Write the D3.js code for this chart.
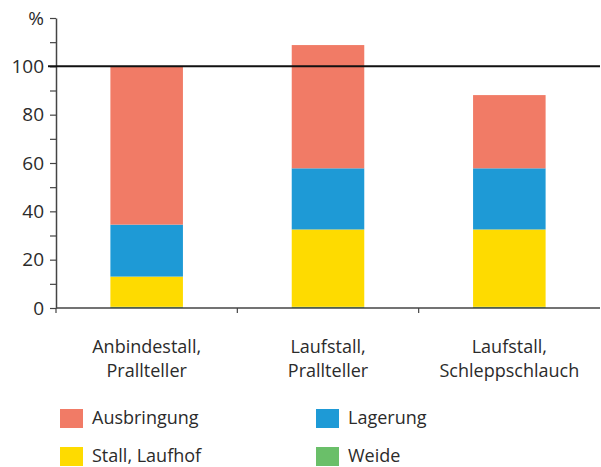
<!DOCTYPE html>
<html lang="de">
<head>
<meta charset="UTF-8">
<script src="https://d3js.org/d3.v7.min.js"></script>
<style>
body { margin: 0; background: #fff; }
text { font-family: "Open Sans", sans-serif; fill: #2b2b2b; }
.axis path, .axis line { stroke: #444; }
</style>
</head>
<body>
<div id="chart"></div>
<script>
// categories (two lines each)
var categories = [
  ["Anbindestall,", "Prallteller"],
  ["Laufstall,", "Prallteller"],
  ["Laufstall,", "Schleppschlauch"]
];
var seriesNames = ["Weide", "Stall, Laufhof", "Lagerung", "Ausbringung"];
var weide       = [0.5, 0.5, 0.5];
var stall       = [12.5, 32, 32];
var lagerung    = [21.5, 25.3, 25.3];
var ausbringung = [65.5, 51, 30.3];
var colors = ["#6abf69", "#fedb00", "#1e9ad6", "#f17b66"];
var yTicks = [0, 10, 20, 30, 40, 50, 60, 70, 80, 90, 100, 110, 120];

var width = 601, height = 467;

var svg = d3.select("#chart").append("svg")
    .attr("width", width)
    .attr("height", height);

var keys = categories.map(function(c) { return c.join(" "); });
var rows = keys.map(function(k, i) {
  return { key: k, "Weide": weide[i], "Stall, Laufhof": stall[i],
           "Lagerung": lagerung[i], "Ausbringung": ausbringung[i] };
});

var x = d3.scaleBand().domain(keys).range([56, 600]).paddingInner(0).paddingOuter(0);
var y = d3.scaleLinear().domain([0, 120]).range([308, 18]);
var color = d3.scaleOrdinal().domain(seriesNames).range(colors);

var stack = d3.stack().keys(seriesNames)(rows);
var barW = x.bandwidth() * 0.4;

svg.append("g").selectAll("g")
  .data(stack)
  .join("g")
    .attr("fill", function(d) { return color(d.key); })
  .selectAll("rect")
  .data(function(d) { return d; })
  .join("rect")
    .attr("x", function(d) { return x(d.data.key) + (x.bandwidth() - barW) / 2; })
    .attr("width", barW)
    .attr("y", function(d) { return y(d[1]); })
    .attr("height", function(d) { return y(d[0]) - y(d[1]); });

// y axis
var yAxis = svg.append("g")
    .attr("class", "axis")
    .attr("transform", "translate(56,0)")
    .call(d3.axisLeft(y).tickValues(yTicks).tickSize(6).tickSizeOuter(0)
      .tickFormat(function(d) {
        if (d === 120) return "%";
        return d % 20 === 0 ? d : "";
      }));
yAxis.select(".domain").attr("stroke-width", 1.5);
yAxis.selectAll("line").attr("stroke-width", 1.2);
yAxis.selectAll("text").style("font-size", "19px").attr("x", -12).attr("fill", "#2b2b2b");

// x axis baseline and boundary ticks
var bounds = keys.map(function(k) { return x(k); });
svg.append("line")
    .attr("x1", 56).attr("x2", 600)
    .attr("y1", y(0)).attr("y2", y(0))
    .attr("stroke", "#444").attr("stroke-width", 1.5);
svg.append("g").selectAll("line")
  .data(bounds)
  .join("line")
    .attr("x1", function(d) { return d; }).attr("x2", function(d) { return d; })
    .attr("y1", y(0)).attr("y2", y(0) + 5)
    .attr("stroke", "#444").attr("stroke-width", 1.2);

// 100% reference line
svg.append("line")
    .attr("x1", 48).attr("x2", 600)
    .attr("y1", y(100)).attr("y2", y(100))
    .attr("stroke", "#111").attr("stroke-width", 2);

// category labels
var cat = svg.append("g").selectAll("text")
  .data(categories)
  .join("text")
    .attr("text-anchor", "middle")
    .style("font-size", "18px")
    .attr("transform", function(d, i) { return "translate(" + (x(keys[i]) + x.bandwidth() / 2) + ",353)"; });
cat.selectAll("tspan")
  .data(function(d) { return d; })
  .join("tspan")
    .attr("x", 0)
    .attr("dy", function(d, i) { return i === 0 ? 0 : 24; })
    .text(function(d) { return d; });

// legend
var legendOrder = ["Ausbringung", "Lagerung", "Stall, Laufhof", "Weide"];
var legendPos = [[60, 409], [316, 409], [60, 447], [316, 447]];
var lg = svg.append("g").selectAll("g")
  .data(legendOrder)
  .join("g")
    .attr("transform", function(d, i) { return "translate(" + legendPos[i][0] + "," + legendPos[i][1] + ")"; });
lg.append("rect")
    .attr("width", 23).attr("height", 19)
    .attr("fill", function(d) { return color(d); });
lg.append("text")
    .attr("x", 32).attr("y", 15)
    .style("font-size", "18px")
    .text(function(d) { return d; });
</script>
</body>
</html>
